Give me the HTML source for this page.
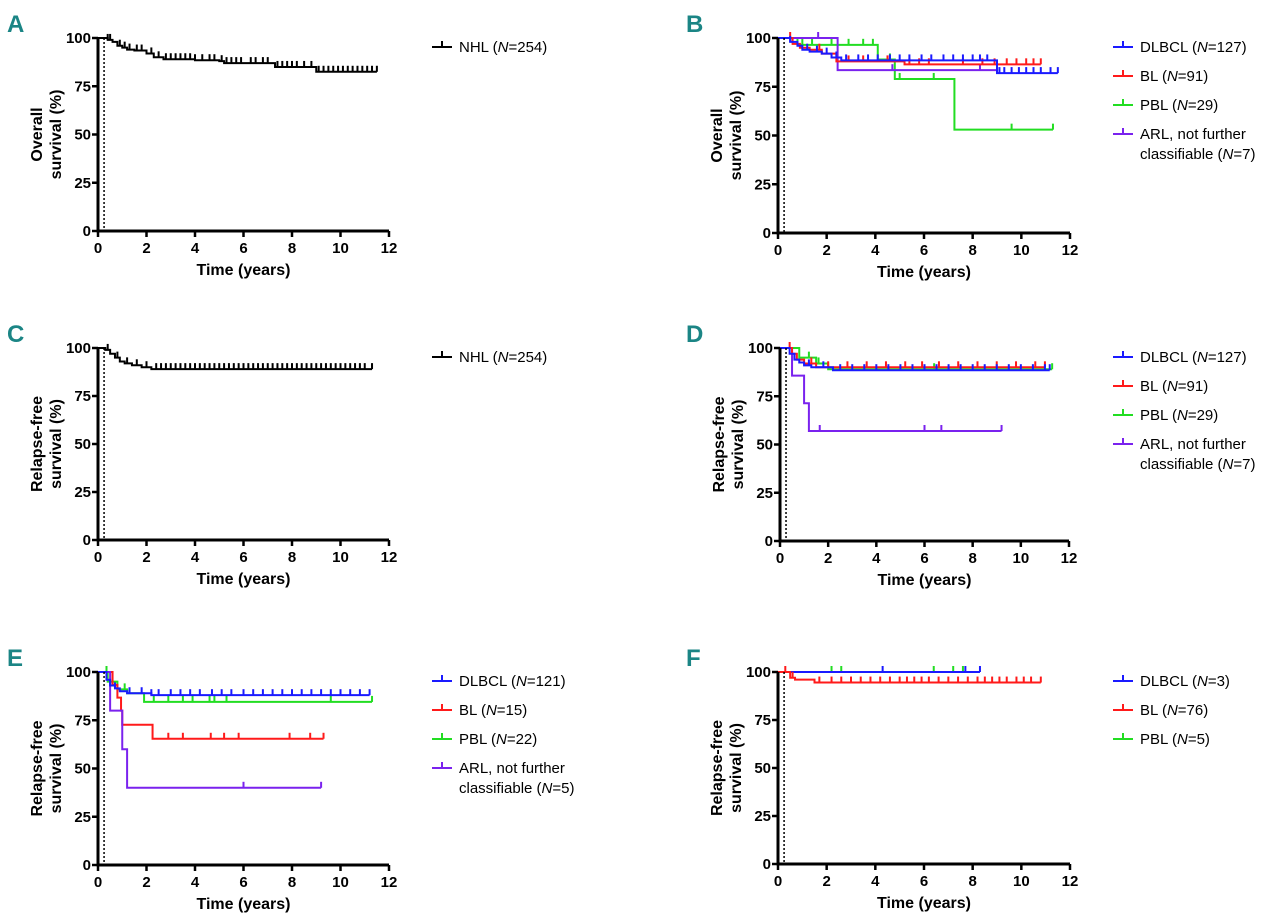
<!DOCTYPE html>
<html><head><meta charset="utf-8"><style>
body{margin:0;background:#fff;width:1280px;height:918px;overflow:hidden}
svg text{font-family:"Liberation Sans",sans-serif}
.tk{font-size:15px;font-weight:bold}
.at{font-size:16px;font-weight:bold}
.lg{font-size:15px}
.pl{font-size:24px;font-weight:bold;fill:#1b8585}
</style></head><body>
<svg id="fig" width="1280" height="918" xmlns="http://www.w3.org/2000/svg"></svg>
<script>
// ---- data (time in years, survival in %) ----
const xTicks=[0,2,4,6,8,10,12];
const yTicks=[0,25,50,75,100];
const colors={NHL:"#000",DLBCL:"#1a1aff",BL:"#ff1a1a",PBL:"#22dd22",ARL:"#7a22ee"};
// Panel A
const A_NHL_t=[0,0.4,0.6,0.8,1.0,1.2,1.5,2.0,2.3,2.7,4.0,5.0,5.2,7.3,9.0,11.5];
const A_NHL_s=[100,99,98,96,95,94,93.5,92,90,89,88.5,88,87,85,82.5,82.5];
const A_NHL_c=[0.4,0.5,0.9,1.1,1.3,1.6,1.8,2.2,2.5,2.8,3.0,3.2,3.4,3.6,3.8,4.0,4.3,4.6,4.8,5.1,5.3,5.5,5.7,5.9,6.3,6.5,6.8,7.0,7.4,7.6,7.8,8.0,8.2,8.5,8.8,9.1,9.3,9.5,9.7,9.9,10.1,10.3,10.5,10.7,10.9,11.1,11.3,11.5];
// Panel B
const B_DLBCL_t=[0,0.5,0.8,1.0,1.3,1.8,2.2,2.6,9.0,11.5];
const B_DLBCL_s=[100,98,96,94,93,92,90,88.5,82,82];
const B_DLBCL_c=[0.5,1.2,1.6,2.0,2.4,2.8,3.3,3.7,4.1,4.6,5.0,5.4,5.9,6.3,6.8,7.2,7.6,8.0,8.3,8.6,9.1,9.3,9.6,9.9,10.2,10.5,10.8,11.2,11.5];
const B_BL_t=[0,0.6,0.9,1.3,1.8,2.4,5.2,10.8];
const B_BL_s=[100,97,95,94,92,88,86.5,86.5];
const B_BL_c=[0.5,1.7,2.9,3.5,4.5,5.4,5.8,6.2,7.6,8.4,8.9,9.4,9.8,10.2,10.5,10.8];
const B_PBL_t=[0,0.8,4.1,4.8,7.25,11.3];
const B_PBL_s=[100,96.5,89,79,53,53];
const B_PBL_c=[1.0,1.4,2.2,2.9,3.5,3.9,4.6,5.0,6.4,9.6,11.3];
const B_ARL_t=[0,2.45,9.0];
const B_ARL_s=[100,83.5,83.5];
const B_ARL_c=[1.65,4.7,8.3];
// Panel C
const C_NHL_t=[0,0.3,0.5,0.7,0.9,1.1,1.4,1.8,2.2,11.3];
const C_NHL_s=[100,99,97,95,93,92,91,90,89,89];
const C_NHL_c=[0.4,0.8,1.2,1.6,2.0,2.4,2.6,2.8,3.0,3.2,3.4,3.6,3.8,4.0,4.2,4.4,4.6,4.8,5.0,5.2,5.4,5.6,5.8,6.0,6.2,6.4,6.6,6.8,7.0,7.2,7.4,7.6,7.8,8.0,8.2,8.4,8.6,8.8,9.0,9.2,9.4,9.6,9.8,10.0,10.2,10.4,10.6,10.8,11.0,11.3];
// Panel D
const D_DLBCL_t=[0,0.4,0.6,0.8,1.0,1.3,2.2,11.2];
const D_DLBCL_s=[100,97,94,92.5,91,90,88.5,88.5];
const D_DLBCL_c=[0.6,1.2,1.8,2.5,3.0,3.5,4.0,4.5,5.0,5.5,6.0,6.5,7.0,7.5,8.0,8.5,9.0,9.5,10.0,10.5,11.0,11.2];
const D_BL_t=[0,0.5,0.7,1.0,1.5,11.0];
const D_BL_s=[100,97,94,92,90,90];
const D_BL_c=[0.4,1.3,2.0,2.8,3.6,4.4,5.2,5.9,6.6,7.4,8.2,9.0,9.8,10.6,11.0];
const D_PBL_t=[0,0.8,1.5,2.0,11.3];
const D_PBL_s=[100,95,92,89,89];
const D_PBL_c=[1.2,1.6,6.4,11.3];
const D_ARL_t=[0,0.5,1.0,1.2,9.2];
const D_ARL_s=[100,85.7,71.4,57,57];
const D_ARL_c=[1.65,6.0,6.7,9.2];
// Panel E
const E_DLBCL_t=[0,0.35,0.5,0.7,0.9,1.2,2.2,11.2];
const E_DLBCL_s=[100,96,93,91.5,90,89,88,88];
const E_DLBCL_c=[0.7,1.3,1.8,2.2,2.5,3.0,3.4,3.8,4.2,4.7,5.1,5.5,6.0,6.4,6.8,7.2,7.6,8.0,8.4,8.8,9.2,9.6,10.0,10.4,10.8,11.2];
const E_BL_t=[0,0.6,0.8,0.95,1.0,2.25,9.3];
const E_BL_s=[100,93.3,86.7,80,72.7,65.4,65.4];
const E_BL_c=[2.9,3.5,4.65,5.2,5.8,7.9,8.75,9.3];
const E_PBL_t=[0,0.4,0.8,1.2,1.9,11.3];
const E_PBL_s=[100,95,91,89,84.5,84.5];
const E_PBL_c=[0.35,1.1,2.3,2.9,3.5,3.9,4.6,4.8,5.3,9.6,11.3];
const E_ARL_t=[0,0.5,1.0,1.2,9.2];
const E_ARL_s=[100,80,60,40,40];
const E_ARL_c=[6.0,9.2];
// Panel F
const F_DLBCL_t=[0,8.3];
const F_DLBCL_s=[100,100];
const F_DLBCL_c=[4.3,7.7,8.3];
const F_BL_t=[0,0.5,0.7,1.5,10.8];
const F_BL_s=[100,97,96,94.5,94.5];
const F_BL_c=[0.3,0.6,1.7,2.2,2.6,3.0,3.4,3.8,4.2,4.6,5.0,5.3,5.6,5.9,6.2,6.6,7.0,7.4,7.8,8.2,8.5,8.8,9.1,9.4,9.8,10.1,10.4,10.8];
const F_PBL_t=[0,7.6];
const F_PBL_s=[100,100];
const F_PBL_c=[2.2,2.6,6.4,7.2,7.6];

const NS="http://www.w3.org/2000/svg";
const svg=document.getElementById('fig');
function mk(tag,attrs,parent){const e=document.createElementNS(NS,tag);for(const k in attrs)e.setAttribute(k,attrs[k]);(parent||svg).appendChild(e);return e;}

function panel(cfg){
  const g=mk('g',{});
  
  
  const X=v=>cfg.x+v/12*cfg.w, Y=v=>cfg.y+(100-v)/100*cfg.h;
  const lab=mk('text',{x:cfg.lx,y:cfg.y-6,class:'pl'},g);lab.textContent=cfg.letter;
  
  
  cfg.series.forEach(s=>{
    let d='M'+X(s.t[0])+','+Y(s.s[0]);
    for(let i=1;i<s.t.length;i++){d+=' H'+X(s.t[i])+' V'+Y(s.s[i]);}
    const p=mk('path',{d:d,fill:'none',stroke:colors[s.k],'stroke-width':2},g);
    
    
    s.c.forEach(ct=>{
      let v=s.s[0];for(let i=0;i<s.t.length;i++){if(s.t[i]<=ct)v=s.s[i];}
      const m=mk('line',{x1:X(ct),x2:X(ct),y1:Y(v),y2:Y(v)-6,stroke:colors[s.k],'stroke-width':2},g);
      
      
    });
  });
  mk('line',{x1:X(0.25),x2:X(0.25),y1:Y(100),y2:Y(0),stroke:'#000','stroke-width':1.5,'stroke-dasharray':'2,2'},g);
  const ax=mk('path',{d:`M${cfg.x},${Y(100)} V${Y(0)} H${X(12)}`,fill:'none',stroke:'#000','stroke-width':3},g);
  
  
  xTicks.forEach(t=>{
    mk('line',{x1:X(t),x2:X(t),y1:Y(0),y2:Y(0)+6,stroke:'#000','stroke-width':2.5},g);
    const tx=mk('text',{x:X(t),y:Y(0)+22,'text-anchor':'middle',class:'tk'},g);tx.textContent=t;
    
    
  });
  yTicks.forEach(t=>{
    mk('line',{x1:cfg.x-6,x2:cfg.x,y1:Y(t),y2:Y(t),stroke:'#000','stroke-width':2.5},g);
    const tx=mk('text',{x:cfg.x-7,y:Y(t)+5,'text-anchor':'end',class:'tk'},g);tx.textContent=t;
    
    
  });
  const xt=mk('text',{x:X(6),y:Y(0)+44,'text-anchor':'middle',class:'at'},g);xt.textContent='Time (years)';
  
  
  const cy=cfg.y+cfg.h/2;
  const yt=mk('text',{transform:`translate(${cfg.x-56},${cy}) rotate(-90)`,'text-anchor':'middle',class:'at'},g);
  
  
  const t1=mk('tspan',{x:0,y:0},yt);t1.textContent=cfg.yl[0];
  const t2=mk('tspan',{x:0,y:19},yt);t2.textContent=cfg.yl[1];
  let ly=cfg.y+9;
  cfg.legend.forEach(L=>{
    const lg=mk('g',{},g);
    
    
    mk('line',{x1:cfg.lgx,x2:cfg.lgx+20,y1:ly,y2:ly,stroke:colors[L.k],'stroke-width':2},lg);
    mk('line',{x1:cfg.lgx+10,x2:cfg.lgx+10,y1:ly,y2:ly-6,stroke:colors[L.k],'stroke-width':2},lg);
    const tx=mk('text',{x:cfg.lgx+27,y:ly+5,class:'lg'},lg);
    L.lines.forEach((ln,i)=>{
      const ts=mk('tspan',{x:cfg.lgx+27,y:ly+5+i*20},tx);
      ts.innerHTML=ln;
    });
    ly+=29+(L.lines.length-1)*20;
  });
}
const ld=(name,n)=>`${name} (<tspan font-style="italic">N</tspan>=${n})`;
const OS=['Overall','survival (%)'], RFS=['Relapse-free','survival (%)'];
panel({letter:'A',lx:7,x:98,y:38,w:291,h:193,yl:OS,lgx:432,
  series:[{k:'NHL',t:A_NHL_t,s:A_NHL_s,c:A_NHL_c}],legend:[{k:'NHL',lines:[ld('NHL',254)]}]});
panel({letter:'B',lx:686,x:778,y:38,w:292,h:195,yl:OS,lgx:1113,
  series:[{k:'PBL',t:B_PBL_t,s:B_PBL_s,c:B_PBL_c},{k:'ARL',t:B_ARL_t,s:B_ARL_s,c:B_ARL_c},{k:'BL',t:B_BL_t,s:B_BL_s,c:B_BL_c},{k:'DLBCL',t:B_DLBCL_t,s:B_DLBCL_s,c:B_DLBCL_c}],
  legend:[{k:'DLBCL',lines:[ld('DLBCL',127)]},{k:'BL',lines:[ld('BL',91)]},{k:'PBL',lines:[ld('PBL',29)]},{k:'ARL',lines:['ARL, not further','classifiable ('+'<tspan font-style="italic">N</tspan>=7)']}]});
panel({letter:'C',lx:7,x:98,y:348,w:291,h:192,yl:RFS,lgx:432,
  series:[{k:'NHL',t:C_NHL_t,s:C_NHL_s,c:C_NHL_c}],legend:[{k:'NHL',lines:[ld('NHL',254)]}]});
panel({letter:'D',lx:686,x:780,y:348,w:289,h:193,yl:RFS,lgx:1113,
  series:[{k:'ARL',t:D_ARL_t,s:D_ARL_s,c:D_ARL_c},{k:'PBL',t:D_PBL_t,s:D_PBL_s,c:D_PBL_c},{k:'BL',t:D_BL_t,s:D_BL_s,c:D_BL_c},{k:'DLBCL',t:D_DLBCL_t,s:D_DLBCL_s,c:D_DLBCL_c}],
  legend:[{k:'DLBCL',lines:[ld('DLBCL',127)]},{k:'BL',lines:[ld('BL',91)]},{k:'PBL',lines:[ld('PBL',29)]},{k:'ARL',lines:['ARL, not further','classifiable ('+'<tspan font-style="italic">N</tspan>=7)']}]});
panel({letter:'E',lx:7,x:98,y:672,w:291,h:193,yl:RFS,lgx:432,
  series:[{k:'PBL',t:E_PBL_t,s:E_PBL_s,c:E_PBL_c},{k:'BL',t:E_BL_t,s:E_BL_s,c:E_BL_c},{k:'ARL',t:E_ARL_t,s:E_ARL_s,c:E_ARL_c},{k:'DLBCL',t:E_DLBCL_t,s:E_DLBCL_s,c:E_DLBCL_c}],
  legend:[{k:'DLBCL',lines:[ld('DLBCL',121)]},{k:'BL',lines:[ld('BL',15)]},{k:'PBL',lines:[ld('PBL',22)]},{k:'ARL',lines:['ARL, not further','classifiable ('+'<tspan font-style="italic">N</tspan>=5)']}]});
panel({letter:'F',lx:686,x:778,y:672,w:292,h:192,yl:RFS,lgx:1113,
  series:[{k:'PBL',t:F_PBL_t,s:F_PBL_s,c:F_PBL_c},{k:'DLBCL',t:F_DLBCL_t,s:F_DLBCL_s,c:F_DLBCL_c},{k:'BL',t:F_BL_t,s:F_BL_s,c:F_BL_c}],
  legend:[{k:'DLBCL',lines:[ld('DLBCL',3)]},{k:'BL',lines:[ld('BL',76)]},{k:'PBL',lines:[ld('PBL',5)]}]});
</script>
</body></html>
